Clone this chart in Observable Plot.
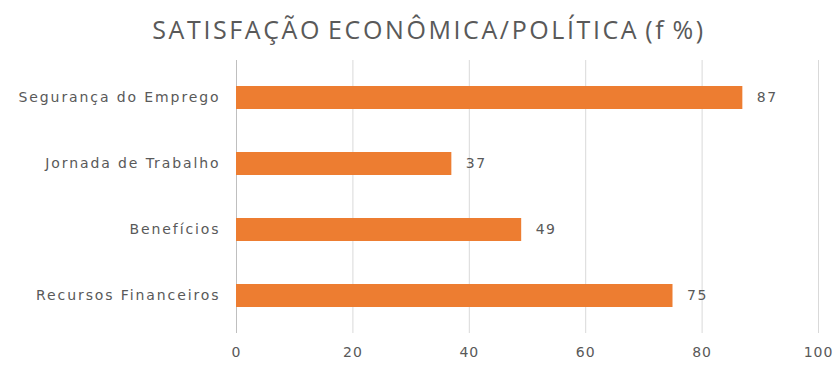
<!DOCTYPE html>
<html>
<head>
<meta charset="utf-8">
<script src="https://cdn.jsdelivr.net/npm/d3@7"></script>
<script src="https://cdn.jsdelivr.net/npm/@observablehq/plot@0.6"></script>
<style>
  html, body { margin: 0; padding: 0; background: #fff; }
  #title { height: 50px; width: 836px; text-align: center; font-family: "Open Sans", sans-serif; font-size: 25px; color: #595959; line-height: 58px; letter-spacing: 2.6px; word-spacing: -3px; white-space: nowrap; padding-left: 22px; box-sizing: border-box; }
  svg { display: block; }
</style>
</head>
<body>
<div id="title">SATISFAÇÃO ECONÔMICA/POLÍTICA (f %)</div>
<div id="chart"></div>
<script>
const categories = ["Segurança do Emprego", "Jornada de Trabalho", "Benefícios", "Recursos Financeiros"];
const values = [87, 37, 49, 75];
const xTicks = [0, 20, 40, 60, 80, 100];

const data = categories.map((c, i) => ({category: c, value: values[i]}));
const gray = "#595959";

const chart = Plot.plot({
  width: 836,
  height: 315,
  marginTop: 10,
  marginBottom: 32,
  marginLeft: 236,
  marginRight: 18,
  style: { fontFamily: "DejaVu Sans, sans-serif", fontSize: "14px", color: gray, background: "#fff" },
  x: { domain: [0, 100], ticks: xTicks, label: null },
  y: { domain: categories, paddingInner: 0.657, paddingOuter: 0.366, label: null },
  marks: [
    Plot.ruleX(xTicks, { x: d => d, stroke: "#d9d9d9", strokeWidth: 1 }),
    Plot.ruleX([0], { stroke: "#bfbfbf", strokeWidth: 1 }),
    Plot.barX(data, { x: "value", y: "category", fill: "#ED7D31" }),
    Plot.text(data, { x: "value", y: "category", text: d => String(d.value), textAnchor: "start", dx: 14, fill: gray, fontSize: 14 }),
    Plot.axisX({ ticks: xTicks, tickSize: 0, tickPadding: 14, fontSize: 14, fill: gray, label: null }),
    Plot.axisY({ tickSize: 0, tickPadding: 16, fontSize: 14, fill: gray, label: null })
  ]
});
document.getElementById("chart").appendChild(chart);
const svg = d3.select(chart);
svg.selectAll("[aria-label='y-axis tick label'] text").style("letter-spacing", "1.9px");
svg.selectAll("[aria-label='x-axis tick label'] text").style("letter-spacing", "1px");
svg.selectAll("[aria-label='text'] text").style("letter-spacing", "1.5px");
</script>
</body>
</html>
